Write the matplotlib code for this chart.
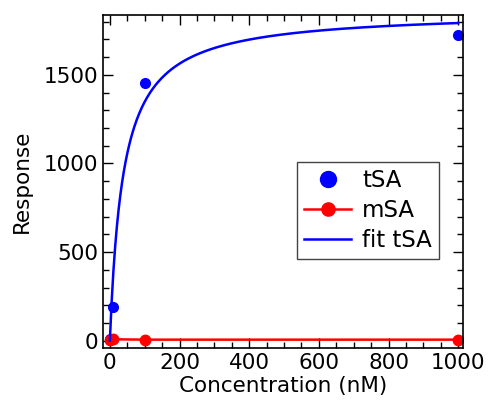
import numpy as np
import matplotlib.pyplot as plt
from matplotlib.ticker import MultipleLocator

# measured data (concentration in nM)
conc = [1, 10, 100, 1000]
tsa = [10, 190, 1453, 1727]
msa = [5, 8, 6, 6]

# hyperbolic fit for tSA
bmax = 1860
kd = 38

fig = plt.figure(figsize=(4.9, 4.07), dpi=100)
ax = fig.add_axes([0.210, 0.145, 0.735, 0.818])

xfit = np.linspace(0, 1000, 400)
yfit = bmax * xfit / (kd + xfit)

ax.plot(conc, tsa, 'o', color='blue', markersize=7, label='tSA')
ax.plot(conc, msa, '-o', color='red', markersize=7.5, linewidth=1.8, label='mSA')
ax.plot(xfit, yfit, '-', color='blue', linewidth=1.8, label='fit tSA')

ax.set_xlim(-20, 1014)
ax.set_ylim(-41, 1837)
ax.xaxis.set_major_locator(MultipleLocator(200))
ax.xaxis.set_minor_locator(MultipleLocator(50))
ax.yaxis.set_major_locator(MultipleLocator(500))
ax.yaxis.set_minor_locator(MultipleLocator(100))
ax.tick_params(which='both', direction='in', top=True, right=True, labelsize=15.5, width=1)
ax.tick_params(which='major', length=7)
ax.tick_params(which='minor', length=4)
for s in ax.spines.values():
    s.set_linewidth(1.2)

ax.set_xlabel('Concentration (nM)', fontsize=15.5, labelpad=2)
ax.set_ylabel('Response', fontsize=15.5, labelpad=8)

leg = ax.legend(loc='upper left', bbox_to_anchor=(0.539, 0.559), borderaxespad=0,
                fontsize=16.5, fancybox=False, framealpha=1, edgecolor='#444444',
                handlelength=2.05, handletextpad=0.48, borderpad=0.32, labelspacing=0.3)
leg.get_frame().set_linewidth(1)
leg.legend_handles[0].set_markersize(11.5)
leg.legend_handles[1].set_markersize(9.5)

fig.savefig('out.png', dpi=100)
